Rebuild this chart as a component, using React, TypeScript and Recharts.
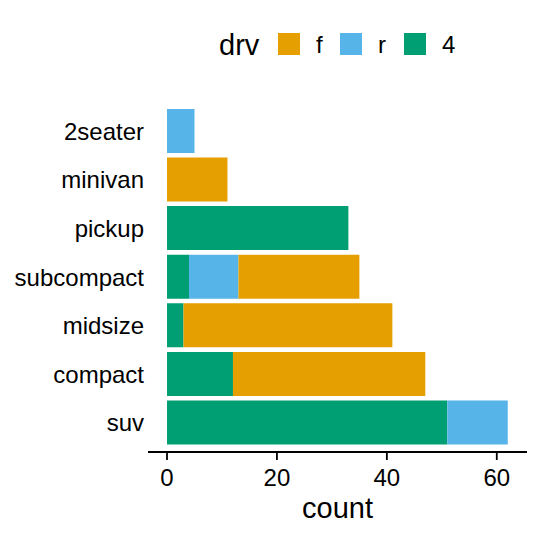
import React from 'react';
import { BarChart, Bar, XAxis, YAxis } from 'recharts';

const classes = ['2seater', 'minivan', 'pickup', 'subcompact', 'midsize', 'compact', 'suv'];
const drv4 = [0, 0, 33, 4, 3, 12, 51];
const drvR = [5, 0, 0, 9, 0, 0, 11];
const drvF = [0, 11, 0, 22, 38, 35, 0];
const xTicks = [0, 20, 40, 60];

const COLORS = { f: '#E69F00', r: '#56B4E9', '4': '#009E73' };
const legendItems = [
  { key: 'f', label: 'f', color: COLORS.f },
  { key: 'r', label: 'r', color: COLORS.r },
  { key: '4', label: '4', color: COLORS['4'] },
];

const data = classes.map((c, i) => ({ cls: c, d4: drv4[i], dr: drvR[i], df: drvF[i] }));

const FONT = '"Liberation Sans", Arial, Helvetica, sans-serif';

const LegendBlock = () => {
  const keyX = [278, 340, 404];
  const labelX = [316, 378, 442];
  return (
    <svg width={540} height={70} style={{ position: 'absolute', left: 0, top: 0, display: 'block' }}>
      <text x={219} y={55} fontSize={29} fontFamily={FONT} fill="#000">drv</text>
      {legendItems.map((it, i) => (
        <g key={it.key}>
          <rect x={keyX[i]} y={33} width={22} height={22} fill={it.color} />
          <text x={labelX[i]} y={53} fontSize={24} fontFamily={FONT} fill="#000">{it.label}</text>
        </g>
      ))}
    </svg>
  );
};

export default function App() {
  return (
    <div style={{ position: 'absolute', left: 0, top: 0, width: 540, height: 540, background: '#fff' }}>
      <BarChart
        width={540}
        height={540}
        data={data}
        layout="vertical"
        margin={{ top: 102, right: 13, bottom: 28, left: 8 }}
        barSize={44}
      >
        <XAxis
          type="number"
          domain={[-3.46, 65.5]}
          ticks={xTicks}
          allowDataOverflow
          height={60}
          axisLine={{ stroke: '#000', strokeWidth: 1.8 }}
          tickLine={{ stroke: '#000', strokeWidth: 1.8 }}
          tickSize={8}
          tickMargin={9}
          tick={{ fill: '#000', fontSize: 24, fontFamily: FONT }}
          label={{ value: 'count', position: 'bottom', offset: -15, fill: '#000', fontSize: 29, fontFamily: FONT }}
        />
        <YAxis
          type="category"
          dataKey="cls"
          width={140}
          axisLine={false}
          tickLine={false}
          tickSize={0}
          tickMargin={4}
          padding={{ top: 4.9, bottom: 4.9 }}
          tick={{ fill: '#000', fontSize: 24, fontFamily: FONT }}
          interval={0}
        />
        <Bar dataKey="d4" stackId="a" fill={COLORS['4']} isAnimationActive={false} />
        <Bar dataKey="dr" stackId="a" fill={COLORS.r} isAnimationActive={false} />
        <Bar dataKey="df" stackId="a" fill={COLORS.f} isAnimationActive={false} />
      </BarChart>
      <LegendBlock />
    </div>
  );
}
